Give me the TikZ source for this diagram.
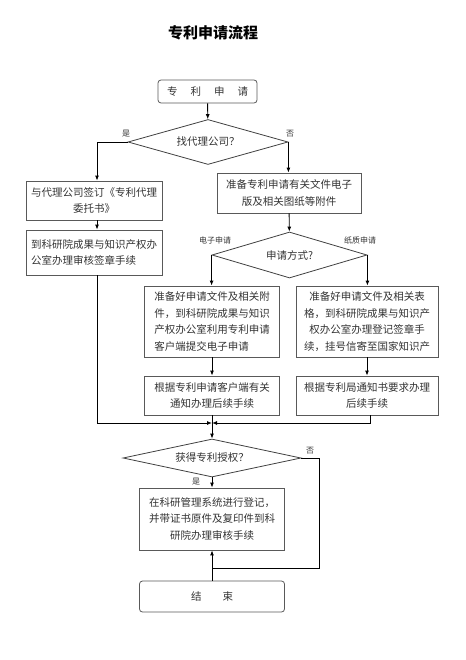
\documentclass[tikz,border=0pt]{standalone}
\usepackage{fontspec}
\setmainfont{Noto Sans CJK SC}
\usetikzlibrary{shapes.geometric, arrows.meta}
\begin{document}
\begin{tikzpicture}[x = 1pt, y = -1pt,
        box/.style = {draw = black!65, line width = 0.8pt, inner sep = 2pt, align = center, text = black!80, font = \fontsize{10.5}{16.5}\selectfont},
        endbox/.style = {box, rounded corners = 3pt},
        choice/.style = {diamond, draw = black!75, line width = 0.8pt, inner sep = 0pt, text = black!80, font = \fontsize{10.5}{12}\selectfont},
        lbl/.style = {text = black!80, font = \fontsize{8}{8}\selectfont, inner sep = 0pt},
        arr/.style = {-{Latex[length = 5pt, width = 4pt]}, line width = 0.9pt}]
        \useasboundingbox (0, 0) rectangle (465, 660);
        \node [font = \bfseries\fontsize{15}{15}\selectfont] (title) at (213, 33) {专利申请流程};
        \node [endbox, minimum width = 99pt, minimum height = 23pt] (start) at (207.5, 91.5) {专\hspace{13pt}利\hspace{13pt}申\hspace{13pt}请};
        \node [choice, aspect = 3.56, minimum width = 160pt, minimum height = 45pt] (d1) at (208, 142) {找代理公司？};
        \node [box, minimum width = 136pt, minimum height = 39pt] (L1) at (94, 200.5) {与代理公司签订《专利代理\\委托书》};
        \node [box, align = left, minimum width = 136pt, minimum height = 45pt] (L2) at (94, 252.5) {到科研院成果与知识产权办\\公室办理审核签章手续};
        \node [box, minimum width = 144pt, minimum height = 40pt] (R1) at (289, 193) {准备专利申请有关文件电子\\版及相关图纸等附件};
        \node [choice, aspect = 3.37, minimum width = 155pt, minimum height = 46pt] (d2) at (289.5, 255) {申请方式?};
        \node [box, align = left, minimum width = 135pt, minimum height = 71pt] (E1) at (212, 321.5) {准备好申请文件及相关附\\件，到科研院成果与知识\\产权办公室利用专利申请\\客户端提交电子申请};
        \node [box, minimum width = 142pt, minimum height = 71pt] (P1) at (367, 321.5) {准备好申请文件及相关表\\格，到科研院成果与知识产\\权办公室办理登记签章手\\续，挂号信寄至国家知识产};
        \node [box, minimum width = 135pt, minimum height = 39pt] (E2) at (212, 395.5) {根据专利申请客户端有关\\通知办理后续手续};
        \node [box, minimum width = 142pt, minimum height = 39pt] (P2) at (367, 395.5) {根据专利局通知书要求办理\\后续手续};
        \node [choice, aspect = 4.7, minimum width = 178pt, minimum height = 38pt] (d3) at (212, 458) {获得专利授权？};
        \node [box, minimum width = 145pt, minimum height = 62pt] (F) at (212, 519) {在科研管理系统进行登记，\\并带证书原件及复印件到科\\研院办理审核手续};
        \node [endbox, minimum width = 145pt, minimum height = 31pt] (end) at (212, 596.5) {结\hspace{21pt}束};
        \node [lbl] (yes1) at (126, 134) {是};
        \node [lbl] (no1) at (290, 134) {否};
        \node [lbl] (elec) at (215, 240) {电子申请};
        \node [lbl] (paper) at (360, 240) {纸质申请};
        \node [lbl] (no3) at (310, 451) {否};
        \node [lbl] (yes3) at (196, 482) {是};
        \coordinate (m) at (212, 423);
        \coordinate (n) at (319, 568);
        \coordinate (j) at (212, 568);
        \draw [arr] (start) -- (d1);
        \draw [arr] (d1.west) -| ([xshift = 3pt]L1.north);
        \draw [arr] (d1.east) -- (d1.east |- R1.north);
        \draw [arr] ([xshift = 3pt]L1.south) -- ([xshift = 3pt]L2.north);
        \draw [arr] (R1) -- (d2);
        \draw [arr] (d2.west) -- (d2.west |- E1.north);
        \draw [arr] (d2.east) -- (d2.east |- P1.north);
        \draw [arr] (E1) -- (E2);
        \draw [arr] (P1) -- (P2);
        \draw [arr] ([xshift = 3pt]L2.south) |- (m);
        \draw [arr] ([xshift = 3pt]P2.south) |- (m);
        \draw [arr] (E2) -- (d3);
        \draw [arr] (d3) -- (F);
        \draw [line width = 0.9pt] (d3.east) -| (n) -- (j);
        \draw [arr, {Latex[length = 5pt, width = 4pt]}-] (F) -- (end);
    \end{tikzpicture}
\end{document}
